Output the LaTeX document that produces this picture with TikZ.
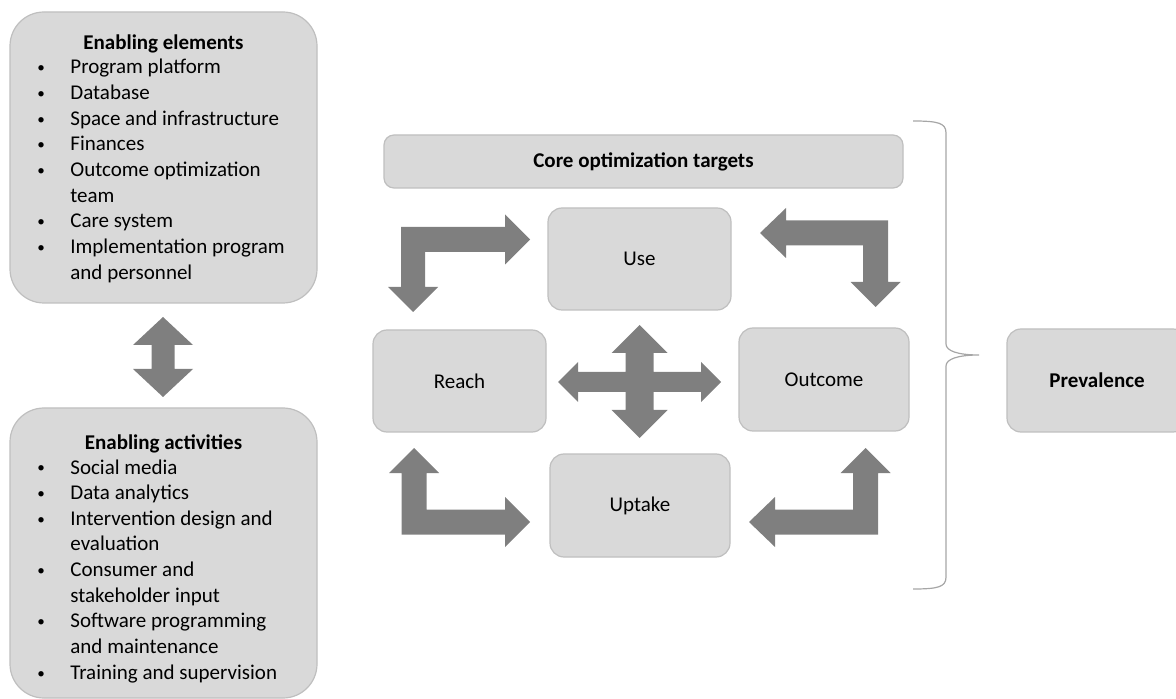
\documentclass[tikz,border=0pt]{standalone}
\usepackage{fontspec}
\usepackage{graphicx}
\setmainfont{Carlito}
\definecolor{boxfill}{HTML}{D9D9D9}
\definecolor{boxline}{HTML}{BFBFBF}
\definecolor{arrowgray}{HTML}{7F7F7F}
\definecolor{bracegray}{HTML}{A6A6A6}
\newcommand{\bitem}[1]{\makebox[17.5pt][l]{\hspace*{1pt}\raisebox{0.6pt}{\scalebox{0.72}{\textbullet}}}#1}
\newcommand{\bcont}[1]{\hspace*{17.5pt}#1}
\tikzset{
  box/.style={draw=boxline, fill=boxfill, line width=0.6pt, rounded corners=7pt, inner sep=0pt,
    font=\fontsize{10.5}{12.83}\selectfont},
  bigbox/.style={box, rounded corners=17pt},
  boldtext/.style={font=\fontsize{10.5}{12.83}\selectfont\bfseries},
  titletext/.style={inner sep=0pt, boldtext},
  listtext/.style={inner sep=0pt, anchor=base west},
  blockarrow/.style={fill=arrowgray, draw=none},
  bracestyle/.style={draw=bracegray, line width=0.6pt},
}
\begin{document}
\begin{tikzpicture}[x=0.5pt, y=-0.5pt]
\useasboundingbox (0,0) rectangle (1176,699);

% left boxes
\node[bigbox, minimum width=153.5pt, minimum height=145.5pt] (elem) at (163.5,157.5) {};
\node[bigbox, minimum width=153.5pt, minimum height=145pt] (act) at (163.5,553) {};
\node[titletext] (elemtitle) at (163.5,43.5) {Enabling elements};
\node[titletext] (acttitle) at (163.5,443.5) {Enabling activities};
\node[listtext] (elemlist) at (35,74) {\parbox[t]{150pt}{\fontsize{10.5}{12.83}\selectfont
\bitem{Program platform}\\
\bitem{Database}\\
\bitem{Space and infrastructure}\\
\bitem{Finances}\\
\bitem{Outcome optimization}\\
\bcont{team}\\
\bitem{Care system}\\
\bitem{Implementation program}\\
\bcont{and personnel}}};
\node[listtext] (actlist) at (35,474) {\parbox[t]{150pt}{\fontsize{10.5}{12.83}\selectfont
\bitem{Social media}\\
\bitem{Data analytics}\\
\bitem{Intervention design and}\\
\bcont{evaluation}\\
\bitem{Consumer and}\\
\bcont{stakeholder input}\\
\bitem{Software programming}\\
\bcont{and maintenance}\\
\bitem{Training and supervision}}};

% vertical double arrow between left boxes
\fill[blockarrow] (163,317) -- (193,345) -- (174.5,345) -- (174.5,369) -- (193,369) -- (163,397)
  -- (133,369) -- (151.5,369) -- (151.5,345) -- (133,345) -- cycle;

% core header
\node[box, rounded corners=5pt, minimum width=259.5pt, minimum height=26.5pt, boldtext] (core) at (643.5,161.5) {Core optimization targets};

% four target boxes
\node[box, minimum width=91.5pt, minimum height=51pt] (use) at (639.5,259) {Use};
\node[box, minimum width=86.5pt, minimum height=51pt] (reach) at (459.5,381) {Reach};
\node[box, minimum width=85pt, minimum height=51.5pt] (outcome) at (824,379.5) {Outcome};
\node[box, minimum width=90pt, minimum height=51.5pt] (uptake) at (640,505.5) {Uptake};

% prevalence
\node[box, minimum width=90pt, minimum height=51.5pt, boldtext] (prev) at (1097,380.5) {Prevalence};

% bent arrow top-left (Reach <- -> Use)
\fill[blockarrow] (401,227) -- (505,227) -- (505,214.5) -- (530,239.5) -- (505,264.5) -- (505,252)
  -- (425,252) -- (425,287) -- (438,287) -- (413,312) -- (388,287) -- (401,287) -- cycle;
% bent arrow top-right (Use <- -> Outcome)
\fill[blockarrow] (760,233) -- (786,208) -- (786,220.5) -- (888,220.5) -- (888,282) -- (900.5,282)
  -- (875.5,307) -- (850.5,282) -- (863,282) -- (863,245.5) -- (786,245.5) -- (786,258) -- cycle;
% bent arrow bottom-left (Reach <- -> Uptake)
\fill[blockarrow] (414,448) -- (439,473) -- (426.5,473) -- (426.5,509.5) -- (505,509.5) -- (505,497)
  -- (530,522) -- (505,547) -- (505,534.5) -- (401.5,534.5) -- (401.5,473) -- (389,473) -- cycle;
% bent arrow bottom-right (Uptake <- -> Outcome)
\fill[blockarrow] (749,522) -- (775,497) -- (775,509.5) -- (853,509.5) -- (853,473) -- (840.5,473)
  -- (865.5,448) -- (890.5,473) -- (878,473) -- (878,534.5) -- (775,534.5) -- (775,547) -- cycle;
% central four-way arrow
\fill[blockarrow] (639.5,325) -- (667.5,353) -- (653.5,353) -- (653.5,372) -- (701,372) -- (701,362)
  -- (721,382) -- (701,402) -- (701,392) -- (653.5,392) -- (653.5,410) -- (667.5,410) -- (639.5,438)
  -- (611.5,410) -- (625.5,410) -- (625.5,392) -- (578,392) -- (578,402) -- (558,382) -- (578,362)
  -- (578,372) -- (625.5,372) -- (625.5,353) -- (611.5,353) -- cycle;

% brace
\draw[bracestyle] (913,121) .. controls (938,121) and (946,123) .. (946,133) -- (946,344)
  .. controls (946,351) and (958,355) .. (979,355)
  .. controls (958,355) and (946,359) .. (946,366) -- (946,577)
  .. controls (946,587) and (938,589) .. (913,589);
\end{tikzpicture}
\end{document}
